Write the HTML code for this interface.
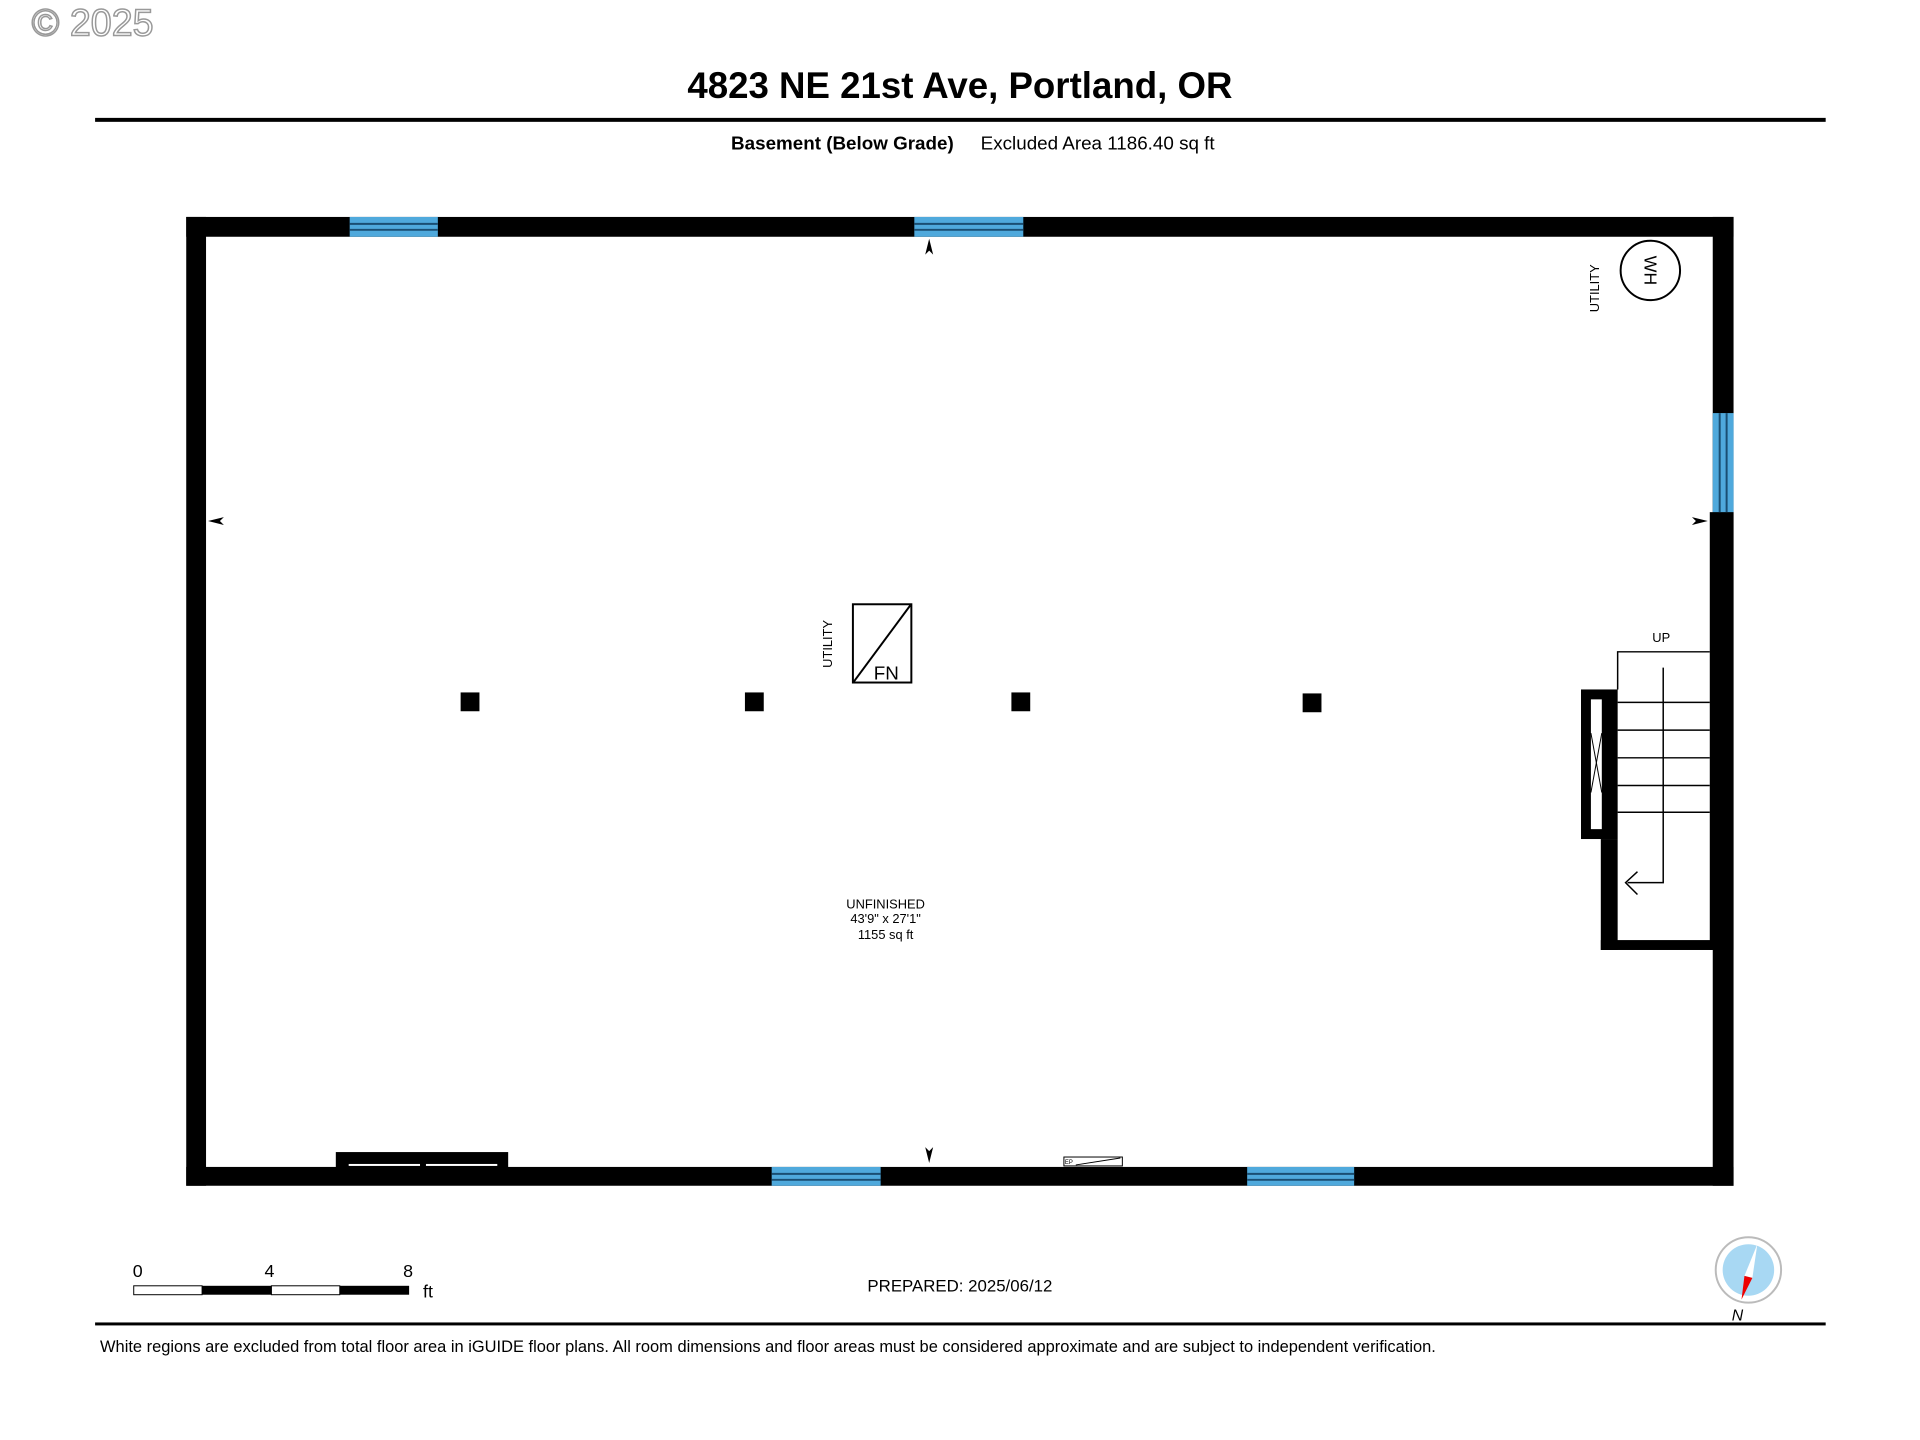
<!DOCTYPE html>
<html><head><meta charset="utf-8"><style>
html,body{margin:0;padding:0;background:#fff;}
body{width:1920px;height:1440px;position:relative;overflow:hidden;font-family:"Liberation Sans",sans-serif;}
</style></head><body>
<svg width="1920" height="1440" viewBox="0 0 1920 1440" xmlns="http://www.w3.org/2000/svg" style="position:absolute;left:0;top:0" font-family="Liberation Sans, sans-serif">
<g transform="scale(0.9906)">
<text x="32" y="36" font-size="38" fill="#fff" stroke="#999" stroke-width="1.5">© 2025</text>
<text x="969" y="99" font-size="37" font-weight="bold" text-anchor="middle">4823 NE 21st Ave, Portland, OR</text>
<rect x="96" y="119" width="1747" height="4" fill="#000"/>
<text x="738" y="151" font-size="19" font-weight="bold">Basement (Below Grade)</text>
<text x="990" y="151" font-size="19">Excluded Area 1186.40 sq ft</text>

<rect x="188" y="219" width="1562" height="20" fill="#000"/>
<rect x="188" y="1178" width="1562" height="19" fill="#000"/>
<rect x="188" y="219" width="20" height="978" fill="#000"/>
<rect x="1729" y="219" width="21" height="978" fill="#000"/>
<rect x="1726" y="517" width="24" height="442" fill="#000"/>
<g fill="#4fa9dc">
<rect x="353" y="219" width="89" height="20"/><rect x="923" y="219" width="110" height="20"/>
<rect x="779" y="1178" width="110" height="19"/><rect x="1259" y="1178" width="108" height="19"/>
<rect x="1729" y="417" width="21" height="100"/>
</g>
<g stroke="#1a4e72" stroke-width="2">
<line x1="353" y1="226" x2="442" y2="226"/><line x1="353" y1="232" x2="442" y2="232"/>
<line x1="923" y1="226" x2="1033" y2="226"/><line x1="923" y1="232" x2="1033" y2="232"/>
<line x1="779" y1="1185" x2="889" y2="1185"/><line x1="779" y1="1191" x2="889" y2="1191"/>
<line x1="1259" y1="1185" x2="1367" y2="1185"/><line x1="1259" y1="1191" x2="1367" y2="1191"/>
<line x1="1736" y1="417" x2="1736" y2="517"/><line x1="1743" y1="417" x2="1743" y2="517"/>
</g>
<rect x="339" y="1163" width="174" height="16" fill="#000"/>
<rect x="352" y="1175" width="72" height="2" fill="#fff"/><rect x="430" y="1175" width="72" height="2" fill="#fff"/>
<rect x="1074" y="1168" width="59" height="9" fill="#fff" stroke="#000" stroke-width="1"/>
<line x1="1086" y1="1176" x2="1131" y2="1169" stroke="#000" stroke-width="1"/>
<text x="1075" y="1175" font-size="6">EP</text>
<polygon points="938,241 934,257 938,253 942,257" fill="#000"/>
<polygon points="938,1174 934,1158 938,1162 942,1158" fill="#000"/>
<polygon points="210,526 226,522 222,526 226,530" fill="#000"/>
<polygon points="1724,526 1708,522 1712,526 1708,530" fill="#000"/>
<g fill="#000">
<rect x="465" y="699" width="19" height="19"/><rect x="752" y="699" width="19" height="19"/>
<rect x="1021" y="699" width="19" height="19"/><rect x="1315" y="700" width="19" height="19"/>
</g>
<rect x="861" y="610" width="59" height="79" fill="none" stroke="#000" stroke-width="2"/>
<line x1="862" y1="688" x2="919" y2="611" stroke="#000" stroke-width="2"/>
<text x="882" y="686" font-size="19">FN</text>
<text transform="translate(840,650) rotate(-90)" font-size="13" text-anchor="middle">UTILITY</text>
<circle cx="1666" cy="273" r="30" fill="none" stroke="#000" stroke-width="2"/>
<text transform="translate(1660,273) rotate(90)" font-size="18" text-anchor="middle">WH</text>
<text transform="translate(1614,291) rotate(-90)" font-size="13" text-anchor="middle">UTILITY</text>
<g stroke="#000" stroke-width="1.5" fill="none">
<polyline points="1633,696 1633,658 1726,658"/>
<line x1="1633" y1="709" x2="1726" y2="709"/><line x1="1633" y1="737" x2="1726" y2="737"/>
<line x1="1633" y1="765" x2="1726" y2="765"/><line x1="1633" y1="793" x2="1726" y2="793"/>
<line x1="1633" y1="820" x2="1726" y2="820"/>
<polyline points="1679,674 1679,891 1643,891"/>
<polyline points="1653,880 1641,891 1653,903"/>
</g>
<rect x="1596" y="696" width="37" height="151" fill="#000"/>
<rect x="1616" y="847" width="17" height="112" fill="#000"/>
<rect x="1616" y="949" width="112" height="10" fill="#000"/>
<rect x="1606" y="706" width="11" height="131" fill="#fff"/>
<g stroke="#000" stroke-width="1"><line x1="1606" y1="740" x2="1617" y2="800"/><line x1="1617" y1="740" x2="1606" y2="800"/></g>
<text x="1677" y="648" font-size="13" text-anchor="middle">UP</text>
<g font-size="13" text-anchor="middle">
<text x="894" y="917">UNFINISHED</text><text x="894" y="932">43'9" x 27'1"</text><text x="894" y="948">1155 sq ft</text>
</g>
<g font-size="18"><text x="139" y="1289" text-anchor="middle">0</text><text x="272" y="1289" text-anchor="middle">4</text><text x="412" y="1289" text-anchor="middle">8</text><text x="427" y="1310">ft</text></g>
<rect x="135" y="1298" width="69" height="9" fill="#fff" stroke="#000" stroke-width="1"/>
<rect x="204" y="1298" width="70" height="9" fill="#000"/>
<rect x="274" y="1298" width="69" height="9" fill="#fff" stroke="#000" stroke-width="1"/>
<rect x="343" y="1298" width="70" height="9" fill="#000"/>
<text x="969" y="1304" font-size="17" text-anchor="middle">PREPARED: 2025/06/12</text>
<circle cx="1765" cy="1282" r="33" fill="#fff" stroke="#bbb" stroke-width="2"/>
<circle cx="1765" cy="1282" r="26" fill="#a8d8f3"/>
<polygon points="1774,1256 1761,1288 1769,1290" fill="#fff"/>
<polygon points="1761,1288 1769,1290 1758,1312" fill="#e00"/>
<text x="1754" y="1333" font-size="16" font-style="italic" text-anchor="middle">N</text>
<rect x="96" y="1335" width="1747" height="3" fill="#000"/>
<text x="101" y="1365" font-size="16.6">White regions are excluded from total floor area in iGUIDE floor plans. All room dimensions and floor areas must be considered approximate and are subject to independent verification.</text>
</g>
</svg>
</body></html>
